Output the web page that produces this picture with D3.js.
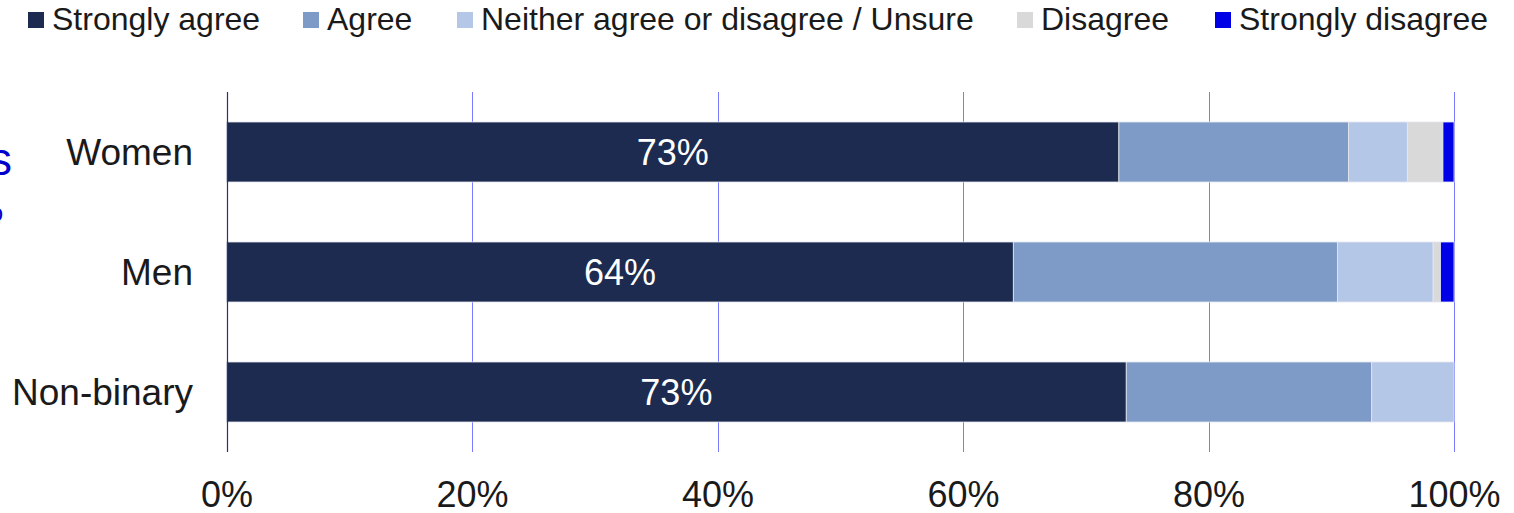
<!DOCTYPE html>
<html>
<head>
<meta charset="utf-8">
<script src="https://cdn.jsdelivr.net/npm/d3@7"></script>
<style>
  html, body { margin: 0; padding: 0; background: #ffffff; }
  svg { display: block; font-family: "Liberation Sans", Arial, sans-serif; }
</style>
</head>
<body>
<svg id="chart" width="1514" height="513"></svg>
<script>
// ---- data ----
const categories = ["Women", "Men", "Non-binary"];
const seriesNames = ["Strongly agree", "Agree", "Neither agree or disagree / Unsure", "Disagree", "Strongly disagree"];
const stronglyAgree = [72.7, 64.1, 73.3];
const agree = [18.7, 26.4, 20.0];
const neither = [4.8, 7.8, 6.7];
const disagree = [2.9, 0.6, 0.0];
const stronglyDisagree = [0.9, 1.1, 0.0];
const barLabels = ["73%", "64%", "73%"];
const xTicks = [0, 20, 40, 60, 80, 100];

// ---- style / layout ----
const colors = ["#1c2b4f", "#7d9bc6", "#b4c7e7", "#d9d9d9", "#0000e6"];
const legendX = [28, 303, 457, 1017, 1215];
const margin = { left: 226.5, right: 1454, top: 92, bottom: 452 };

const svg = d3.select("#chart");
const seriesValues = [stronglyAgree, agree, neither, disagree, stronglyDisagree];
const rows = categories.map((c, i) => {
  const r = { cat: c };
  seriesNames.forEach((s, j) => r[s] = seriesValues[j][i]);
  return r;
});
const stacked = d3.stack().keys(seriesNames)(rows);

const x = d3.scaleLinear().domain([0, 100]).range([margin.left, margin.right]);
const y = d3.scaleBand().domain(categories).range([margin.top, margin.bottom])
  .paddingInner(0.5).paddingOuter(0.25);

// cut-off blue text at left edge
svg.append("text").attr("x", 12).attr("y", 175).attr("text-anchor", "end")
  .attr("font-size", 46).attr("fill", "#0000cc").text("s");
svg.append("text").attr("x", 3).attr("y", 221).attr("text-anchor", "end")
  .attr("font-size", 24).attr("fill", "#0000cc").text("o");

// gridlines
svg.append("g").selectAll("line").data(xTicks.filter(d => d > 0)).join("line")
  .attr("x1", d => Math.round(x(d)) + 0.5).attr("x2", d => Math.round(x(d)) + 0.5)
  .attr("y1", margin.top).attr("y2", margin.bottom)
  .attr("stroke", "#7b7bff").attr("stroke-width", 1);

// bars
svg.append("g").selectAll("g").data(stacked).join("g")
  .attr("fill", (d, i) => colors[i])
  .selectAll("rect").data(d => d).join("rect")
  .attr("x", d => x(d[0]))
  .attr("width", d => Math.max(0, x(d[1]) - x(d[0])))
  .attr("y", d => y(d.data.cat))
  .attr("height", y.bandwidth())
  .attr("stroke", "#e4e7ee").attr("stroke-width", 0.8);

// zero axis line
svg.append("line")
  .attr("x1", Math.round(x(0)) + 0.5).attr("x2", Math.round(x(0)) + 0.5)
  .attr("y1", margin.top).attr("y2", margin.bottom)
  .attr("stroke", "#2e2e7a").attr("stroke-width", 1.2);

// bar labels (strongly agree)
svg.append("g").selectAll("text").data(stacked[0]).join("text")
  .attr("x", d => (x(d[0]) + x(d[1])) / 2)
  .attr("y", d => y(d.data.cat) + y.bandwidth() / 2 + 13)
  .attr("text-anchor", "middle").attr("font-size", 36).attr("fill", "#ffffff")
  .text((d, i) => barLabels[i]);

// category labels
const yAxis = d3.axisLeft(y).tickSize(0).tickPadding(0);
const ya = svg.append("g").attr("transform", "translate(193,0)").call(yAxis);
ya.select(".domain").remove();
ya.selectAll("text").attr("font-size", 37).attr("fill", "#1a1a1a")
  .attr("font-family", "'Liberation Sans', Arial, sans-serif").attr("dy", "0.35em");

// x axis tick labels
const xAxis = d3.axisBottom(x).tickValues(xTicks).tickFormat(d => d + "%").tickSize(0).tickPadding(0);
const xa = svg.append("g").attr("transform", "translate(0,507)").call(xAxis);
xa.select(".domain").remove();
xa.selectAll("text").attr("font-size", 36).attr("fill", "#1a1a1a")
  .attr("font-family", "'Liberation Sans', Arial, sans-serif").attr("dy", 0).attr("y", 0);

// legend
const lg = svg.append("g").selectAll("g").data(seriesNames).join("g")
  .attr("transform", (d, i) => `translate(${legendX[i]},0)`);
lg.append("rect").attr("x", 0).attr("y", 12).attr("width", 16).attr("height", 16)
  .attr("fill", (d, i) => colors[i]);
lg.append("text").attr("x", 24).attr("y", 30).attr("font-size", 32).attr("fill", "#1a1a1a")
  .text(d => d);
</script>
</body>
</html>
